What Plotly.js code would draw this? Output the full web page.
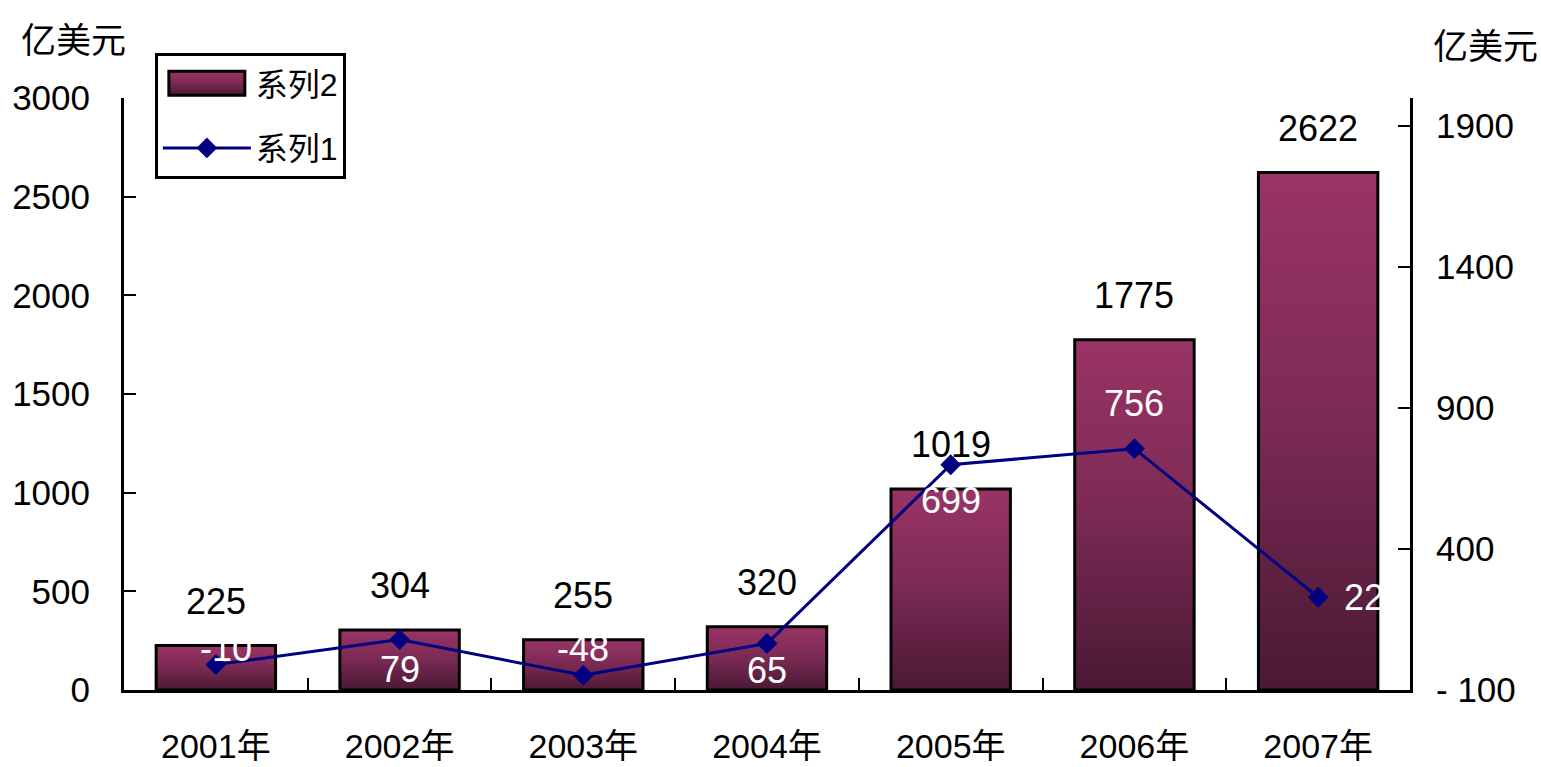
<!DOCTYPE html>
<html>
<head>
<meta charset="utf-8">
<script src="https://cdn.plot.ly/plotly-3.0.1.min.js"></script>
<style>html,body{margin:0;padding:0;background:#fff;}#chart{width:1541px;height:767px;}</style>
</head>
<body>
<div id="chart"></div>
<script>
// Data
const categories = ['2001年', '2002年', '2003年', '2004年', '2005年', '2006年', '2007年'];
const series2 = [225, 304, 255, 320, 1019, 1775, 2622];   // bars, left axis
const series1 = [-10, 79, -48, 65, 699, 756, 229];        // line, right axis
const leftTicks = [0, 500, 1000, 1500, 2000, 2500, 3000];
const rightTicks = [-100, 400, 900, 1400, 1900];
const unitLabel = '亿美元';

// Styles (not data)
const FONT = "'Liberation Sans', Arial, 'Noto Sans CJK SC', sans-serif";
const lineLabelDx = [10, 0, 0, 0, 0, 0, 24];
const lineLabelDy = [16, -30, 27, -27, -36, 45, 0];
const lineLabelAnchor = ['center', 'center', 'center', 'center', 'center', 'center', 'left'];
const LEGEND_ITEM_W = 88;

const barTrace = {
  type: 'bar', name: '系列2', x: categories, y: series2,
  legendgroup: 'g2',
  marker: { color: '#7a2a54', line: { color: '#000', width: 3 } },
  hoverinfo: 'none'
};
const lineTrace = {
  type: 'scatter', mode: 'lines+markers', name: '系列1',
  x: categories, y: series1, yaxis: 'y2',
  legendgroup: 'g1',
  line: { color: '#000080', width: 3 },
  marker: { symbol: 'diamond', size: 16, color: '#000080' },
  cliponaxis: false, hoverinfo: 'none'
};

const barAnnotations = categories.map((c, i) => ({
  x: c, y: series2[i], xref: 'x', yref: 'y', text: String(series2[i]),
  showarrow: false, yanchor: 'bottom', yshift: 22,
  font: { family: FONT, size: 36, color: '#000' }
}));
const lineAnnotations = categories.map((c, i) => ({
  x: c, y: series1[i], xref: 'x', yref: 'y2', text: String(series1[i]),
  showarrow: false, xanchor: lineLabelAnchor[i], yanchor: 'middle',
  xshift: lineLabelDx[i], yshift: lineLabelDy[i],
  font: { family: FONT, size: 36, color: '#ffffff' }
}));

const layout = {
  width: 1541, height: 767,
  margin: { l: 124, r: 131, t: 98, b: 77 },
  paper_bgcolor: '#fff', plot_bgcolor: '#fff',
  font: { family: FONT, size: 34, color: '#000' },
  bargap: 0.35,
  showlegend: true,
  legend: {
    x: 0.024, y: 1.076, xanchor: 'left', yanchor: 'top',
    bgcolor: '#fff', bordercolor: '#000', borderwidth: 3,
    font: { family: FONT, size: 32, color: '#000' },
    traceorder: 'grouped', itemwidth: LEGEND_ITEM_W, tracegroupgap: 20
  },
  xaxis: {
    type: 'category', showline: true, linecolor: '#000', linewidth: 3,
    ticks: 'inside', tickson: 'boundaries', ticklen: 12, tickwidth: 2, tickcolor: '#000',
    tickfont: { family: FONT, size: 34 }, ticklabelstandoff: 24,
    showgrid: false, zeroline: false, fixedrange: true
  },
  yaxis: {
    range: [0, 3000], tickmode: 'array', tickvals: leftTicks, ticktext: leftTicks.map(String),
    showline: true, linecolor: '#000', linewidth: 3,
    ticks: 'inside', ticklen: 12, tickwidth: 2, tickcolor: '#000',
    tickfont: { family: FONT, size: 35 }, ticklabelstandoff: 24,
    showgrid: false, zeroline: false, fixedrange: true
  },
  yaxis2: {
    overlaying: 'y', side: 'right', range: [-100, 2000],
    tickmode: 'array', tickvals: rightTicks, ticktext: rightTicks.map(v => v < 0 ? '- ' + Math.abs(v) : String(v)),
    showline: true, linecolor: '#000', linewidth: 3,
    ticks: 'inside', ticklen: 12, tickwidth: 2, tickcolor: '#000',
    tickfont: { family: FONT, size: 35 }, ticklabelstandoff: 16,
    showgrid: false, zeroline: false, fixedrange: true
  },
  annotations: barAnnotations.concat(lineAnnotations, [
    { xref: 'paper', yref: 'paper', x: -0.039, y: 1.0, xanchor: 'center', yanchor: 'bottom', yshift: 36,
      text: unitLabel, showarrow: false, font: { family: FONT, size: 35, color: '#000' } },
    { xref: 'paper', yref: 'paper', x: 1.059, y: 1.0, xanchor: 'center', yanchor: 'bottom', yshift: 30,
      text: unitLabel, showarrow: false, font: { family: FONT, size: 35, color: '#000' } }
  ])
};

function applyStyling(gd) {
  const svg = gd.querySelector('svg.main-svg');
  const ns = 'http://www.w3.org/2000/svg';
  let defs = svg.querySelector('defs');
  if (!defs) { defs = document.createElementNS(ns, 'defs'); svg.insertBefore(defs, svg.firstChild); }
  const grad = document.createElementNS(ns, 'linearGradient');
  grad.setAttribute('id', 'barGrad');
  grad.setAttribute('x1', '0'); grad.setAttribute('y1', '0');
  grad.setAttribute('x2', '0'); grad.setAttribute('y2', '1');
  [['0%', '#9a3466'], ['45%', '#7e2b56'], ['100%', '#4a1935']].forEach(([o, c]) => {
    const s = document.createElementNS(ns, 'stop');
    s.setAttribute('offset', o); s.setAttribute('stop-color', c);
    grad.appendChild(s);
  });
  defs.appendChild(grad);
  gd.querySelectorAll('.barlayer .point path').forEach(p => { p.style.fill = 'url(#barGrad)'; });
  const hw = 38;
  gd.querySelectorAll('.legend .traces').forEach(t => {
    const txt = t.querySelector('text.legendtext');
    if (txt && txt.textContent === barTrace.name) {
      t.querySelectorAll('.legendpoints path').forEach(p => {
        p.setAttribute('d', `M${hw},12H${-hw}V-12H${hw}Z`);
        p.style.fill = 'url(#barGrad)';
        p.style.stroke = '#000';
        p.style.strokeWidth = '3px';
      });
    }
  });
}

Plotly.newPlot('chart', [barTrace, lineTrace], layout, { staticPlot: true, displayModeBar: false })
  .then(gd => applyStyling(gd));
</script>
</body>
</html>
